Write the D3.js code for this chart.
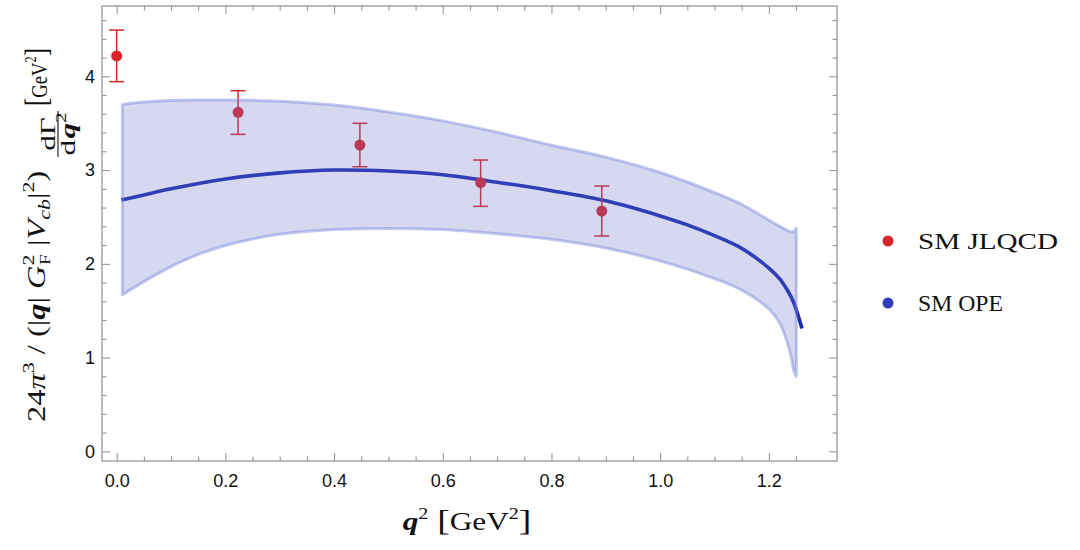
<!DOCTYPE html>
<html>
<head>
<meta charset="utf-8">
<script src="https://cdnjs.cloudflare.com/ajax/libs/d3/7.8.5/d3.min.js"></script>
<style>
  body { margin: 0; background: #fff; }
  svg { display: block; }
</style>
</head>
<body>
<div id="chart"></div>
<script>
// lattice points (SM JLQCD)
const ptQ  = [0, 0.2234, 0.4475, 0.6697, 0.8926];
const ptV  = [4.217, 3.616, 3.267, 2.865, 2.563];
const ptHi = [4.493, 3.846, 3.499, 3.107, 2.830];
const ptLo = [3.943, 3.381, 3.036, 2.613, 2.297];

// OPE band
const bandQ     = [0.0105, 0.05, 0.1, 0.15, 0.2, 0.25, 0.3, 0.4, 0.5, 0.6, 0.7, 0.8, 0.9, 1.0, 1.1, 1.15, 1.2, 1.22, 1.235, 1.242, 1.2455, 1.2505];
const bandUpper = [3.70, 3.725, 3.742, 3.748, 3.748, 3.744, 3.735, 3.693, 3.62, 3.525, 3.403, 3.265, 3.138, 2.974, 2.76, 2.634, 2.466, 2.40, 2.355, 2.338, 2.345, 2.38];
const bandLower = [1.67, 1.81, 1.97, 2.10, 2.195, 2.265, 2.315, 2.365, 2.378, 2.365, 2.32, 2.262, 2.168, 2.031, 1.843, 1.72, 1.52, 1.37, 1.14, 0.98, 0.87, 0.80];

// OPE central value
const lineQ = [0.0086, 0.05, 0.1, 0.2, 0.3, 0.4, 0.5, 0.6, 0.7, 0.8, 0.9, 1.0, 1.05, 1.1, 1.15, 1.2, 1.22, 1.235, 1.2455, 1.261];
const lineV = [2.68, 2.735, 2.80, 2.905, 2.97, 3.0, 2.99, 2.95, 2.871, 2.78, 2.672, 2.511, 2.415, 2.30, 2.165, 1.955, 1.84, 1.71, 1.59, 1.31];

const xMajor = [0, 0.2, 0.4, 0.6, 0.8, 1.0, 1.2];
const yMajor = [0, 1, 2, 3, 4];
const legendNames = ["SM JLQCD", "SM OPE"];

const W = 1080, H = 550;
const frame = { left: 102, right: 837, top: 6, bottom: 461 };

const x = d3.scaleLinear().domain([-0.027, 1.3254]).range([frame.left, frame.right]);
const y = d3.scaleLinear().domain([-0.103, 4.75]).range([frame.bottom, frame.top]);

const svg = d3.select("#chart").append("svg").attr("width", W).attr("height", H);

const red = "#d8262c", blue = "#2f3db8";
const frameCol = "#8e8e8e";

// minor tick values
const xMinor = d3.range(0, 1.3, 0.05).map(v => +v.toFixed(2)).filter(v => !xMajor.some(m => Math.abs(m - v) < 1e-6));
const yMinor = d3.range(0, 4.75, 0.2).map(v => +v.toFixed(2)).filter(v => !yMajor.some(m => Math.abs(m - v) < 1e-6));

// axes: ticks point inward on all four sides
const styleAxis = g => {
  g.select(".domain").remove();
  g.selectAll(".tick line").attr("stroke", frameCol);
  g.selectAll(".tick text").attr("fill", "#111")
    .style("font-family", "'Liberation Sans', Arial, sans-serif").style("font-size", "18px");
};

svg.append("g").attr("transform", `translate(0,${frame.bottom})`)
  .call(d3.axisBottom(x).tickValues(xMajor).tickSize(-8).tickPadding(13).tickFormat(d3.format(".1f"))).call(styleAxis);
svg.append("g").attr("transform", `translate(0,${frame.bottom})`)
  .call(d3.axisBottom(x).tickValues(xMinor).tickSize(-4.5).tickFormat("")).call(styleAxis);
svg.append("g").attr("transform", `translate(0,${frame.top})`)
  .call(d3.axisTop(x).tickValues(xMajor).tickSize(-8).tickFormat("")).call(styleAxis);
svg.append("g").attr("transform", `translate(0,${frame.top})`)
  .call(d3.axisTop(x).tickValues(xMinor).tickSize(-4.5).tickFormat("")).call(styleAxis);

svg.append("g").attr("transform", `translate(${frame.left},0)`)
  .call(d3.axisLeft(y).tickValues(yMajor).tickSize(-8).tickPadding(7).tickFormat(d3.format("d"))).call(styleAxis);
svg.append("g").attr("transform", `translate(${frame.left},0)`)
  .call(d3.axisLeft(y).tickValues(yMinor).tickSize(-4.5).tickFormat("")).call(styleAxis);
svg.append("g").attr("transform", `translate(${frame.right},0)`)
  .call(d3.axisRight(y).tickValues(yMajor).tickSize(-8).tickFormat("")).call(styleAxis);
svg.append("g").attr("transform", `translate(${frame.right},0)`)
  .call(d3.axisRight(y).tickValues(yMinor).tickSize(-4.5).tickFormat("")).call(styleAxis);

svg.append("rect")
  .attr("x", frame.left).attr("y", frame.top)
  .attr("width", frame.right - frame.left).attr("height", frame.bottom - frame.top)
  .attr("fill", "none").attr("stroke", frameCol).attr("stroke-width", 1.2);

const plot = svg.append("g");
const smooth = d3.curveCatmullRom.alpha(0.5);

// central line (drawn under the translucent band)
const lineData = lineQ.map((q, i) => [q, lineV[i]]);
plot.append("path")
  .datum(lineData)
  .attr("fill", "none")
  .attr("stroke", "#1b2bb0")
  .attr("stroke-width", 3.6)
  .attr("d", d3.line().x(d => x(d[0])).y(d => y(d[1])).curve(smooth));

// error bars + points
const pts = ptQ.map((q, i) => ({ q: q, v: ptV[i], lo: ptLo[i], hi: ptHi[i] }));
const pg = plot.selectAll("g.pt").data(pts).enter().append("g").attr("class", "pt");
pg.append("line")
  .attr("x1", d => x(d.q)).attr("x2", d => x(d.q))
  .attr("y1", d => y(d.lo)).attr("y2", d => y(d.hi))
  .attr("stroke", red).attr("stroke-width", 1.5);
pg.append("line")
  .attr("x1", d => x(d.q) - 7.5).attr("x2", d => x(d.q) + 7.5)
  .attr("y1", d => y(d.hi)).attr("y2", d => y(d.hi))
  .attr("stroke", red).attr("stroke-width", 1.5);
pg.append("line")
  .attr("x1", d => x(d.q) - 7.5).attr("x2", d => x(d.q) + 7.5)
  .attr("y1", d => y(d.lo)).attr("y2", d => y(d.lo))
  .attr("stroke", red).attr("stroke-width", 1.5);
pg.append("circle")
  .attr("cx", d => x(d.q)).attr("cy", d => y(d.v))
  .attr("r", 5.5).attr("fill", red);

// band on top, translucent
const bandData = bandQ.map((q, i) => [q, bandLower[i], bandUpper[i]]);
plot.append("path")
  .datum(bandData)
  .attr("fill", "rgb(104,112,198)")
  .attr("fill-opacity", 0.27)
  .attr("stroke", "rgb(120,132,220)")
  .attr("stroke-opacity", 0.45)
  .attr("stroke-width", 3)
  .attr("stroke-linejoin", "round")
  .attr("d", d3.area().x(d => x(d[0])).y0(d => y(d[1])).y1(d => y(d[2])).curve(smooth));

// legend
const serif = "'Liberation Serif', 'Times New Roman', serif";
const legendCols = [red, blue];
const legendY = [241, 303];
const legendW = [140, 85];
const lg = svg.append("g");
legendNames.forEach((name, i) => {
  lg.append("circle").attr("cx", 888).attr("cy", legendY[i]).attr("r", 5.5).attr("fill", legendCols[i]);
  lg.append("text").attr("x", 918).attr("y", legendY[i] + 8)
    .style("font-family", serif).style("font-size", "24px").attr("fill", "#111")
    .attr("textLength", legendW[i]).attr("lengthAdjust", "spacingAndGlyphs")
    .text(name);
});

// x label: q^2 [GeV^2]
const xlg = svg.append("g");
const xl = xlg.append("text")
  .attr("x", 0).attr("y", 0)
  .attr("text-anchor", "middle")
  .style("font-family", serif).style("font-size", "25px").attr("fill", "#111");
xl.append("tspan").style("font-weight", "bold").style("font-style", "italic").text("q");
xl.append("tspan").style("font-size", "16px").attr("dy", -11).text("2");
xl.append("tspan").attr("dy", 11).attr("dx", 7).style("font-size", "30px").text("[");
xl.append("tspan").text("GeV");
xl.append("tspan").style("font-size", "16px").attr("dy", -11).text("2");
xl.append("tspan").attr("dy", 11).style("font-size", "30px").text("]");
const xlw = xl.node().getComputedTextLength();
xlg.attr("transform", `translate(467,530) scale(${120 / xlw},1)`);

// y label, rotated; each piece stretched to its own length along the text
const yl = svg.append("g").attr("transform", "translate(45,422) rotate(-90)");

const mainG = yl.append("g");
const t1 = mainG.append("text").attr("x", 0).attr("y", 0)
  .style("font-family", serif).style("font-size", "25px").attr("fill", "#111");
t1.append("tspan").text("24");
t1.append("tspan").style("font-style", "italic").text("π");
t1.append("tspan").style("font-size", "17px").attr("dy", -11).text("3");
t1.append("tspan").attr("dy", 11).text(" / (|");
t1.append("tspan").style("font-weight", "bold").style("font-style", "italic").text("q");
t1.append("tspan").text("| ");
t1.append("tspan").style("font-style", "italic").text("G");
t1.append("tspan").style("font-size", "17px").attr("dy", -11).text("2");
t1.append("tspan").style("font-size", "15px").attr("dx", -8).attr("dy", 16).text("F");
t1.append("tspan").attr("dy", -5).text(" |");
t1.append("tspan").style("font-style", "italic").text("V");
t1.append("tspan").style("font-style", "italic").style("font-size", "17px").attr("dy", 5).text("cb");
t1.append("tspan").attr("dy", -5).text("|");
t1.append("tspan").style("font-size", "17px").attr("dy", -11).text("2");
t1.append("tspan").attr("dy", 11).text(")");
mainG.attr("transform", `scale(${262 / t1.node().getComputedTextLength()},1)`);

const fracG = yl.append("g");
const num = fracG.append("text").attr("y", 10)
  .style("font-family", serif).style("font-size", "22px").attr("fill", "#111").text("dΓ");
const den = fracG.append("text").attr("y", 30)
  .style("font-family", serif).style("font-size", "22px").attr("fill", "#111");
den.append("tspan").text("d");
den.append("tspan").attr("dx", 1).style("font-weight", "bold").style("font-style", "italic").text("q");
den.append("tspan").style("font-size", "15px").attr("dy", -9).text("2");
const fw = Math.max(num.node().getComputedTextLength(), den.node().getComputedTextLength()) + 3;
num.attr("x", fw / 2).attr("text-anchor", "middle");
den.attr("x", fw / 2).attr("text-anchor", "middle");
fracG.append("line").attr("x1", 0).attr("x2", fw).attr("y1", 13).attr("y2", 13)
  .attr("stroke", "#111").attr("stroke-width", 1.1);
fracG.attr("transform", `translate(265,0) scale(${46 / fw},1)`);

const unitG = yl.append("g");
const t3 = unitG.append("text").attr("x", 0).attr("y", 2)
  .style("font-family", serif).style("font-size", "24px").attr("fill", "#111");
t3.append("tspan").style("font-size", "32px").text("[");
t3.append("tspan").text("GeV");
t3.append("tspan").style("font-size", "16px").attr("dy", -11).text("2");
t3.append("tspan").attr("dy", 11).style("font-size", "32px").text("]");
unitG.attr("transform", `translate(316,0) scale(${58 / t3.node().getComputedTextLength()},1)`);
</script>
</body>
</html>
